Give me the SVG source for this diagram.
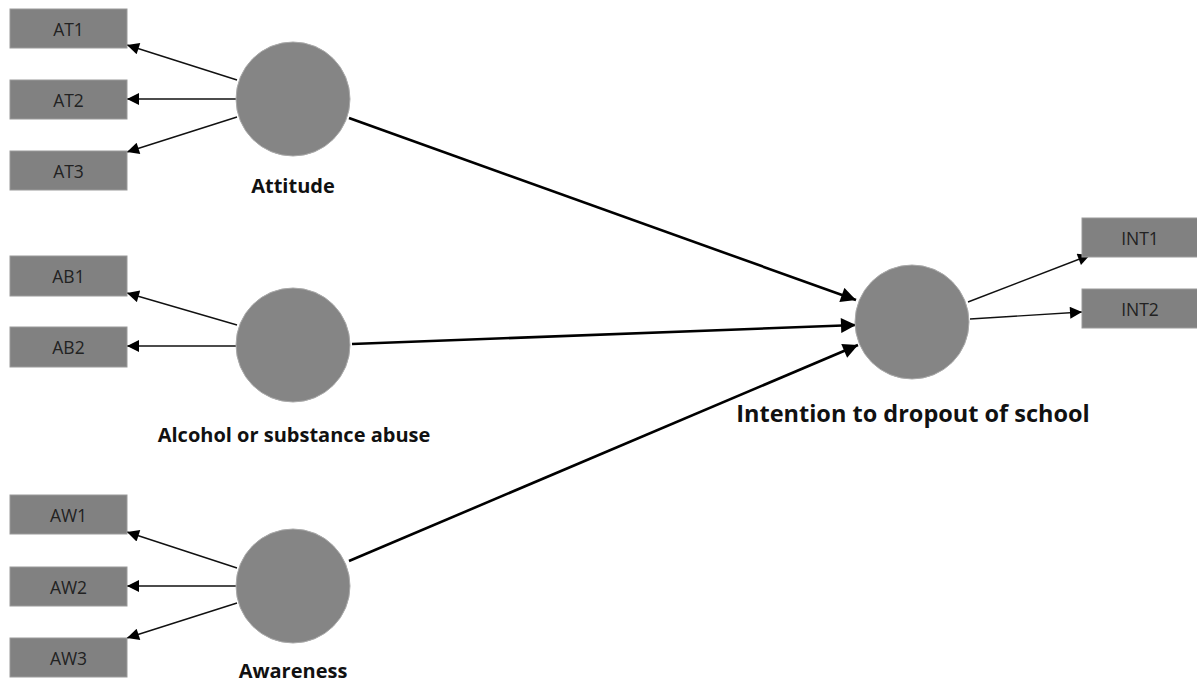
<svg xmlns="http://www.w3.org/2000/svg" width="1197" height="684" viewBox="0 0 1197 684">
<style>
.box{fill:#818181;stroke:#9a9a9a;stroke-width:1}
.lv{fill:#858585;stroke:#aaaaaa;stroke-width:1}
.bt{font-family:"Open Sans","Noto Sans",sans-serif;font-size:17.5px;fill:#222;text-anchor:middle}
.lt{font-family:"Open Sans","Noto Sans",sans-serif;font-size:20px;font-weight:bold;fill:#111;text-anchor:middle}
.thin{stroke:#111;stroke-width:1.4;fill:none;marker-end:url(#a1)}
.thick{stroke:#000;stroke-width:2.6;fill:none;marker-end:url(#a2)}
</style>
<defs>
<marker id="a1" viewBox="0 0 10 10" refX="10" refY="5" markerUnits="userSpaceOnUse" markerWidth="15" markerHeight="12" orient="auto"><path d="M0,0L10,5L0,10z" fill="#000"/></marker>
<marker id="a2" viewBox="0 0 10 10" refX="10" refY="5" markerUnits="userSpaceOnUse" markerWidth="18" markerHeight="15" orient="auto"><path d="M0,0L10,5L0,10z" fill="#000"/></marker>
</defs>
<rect width="1197" height="684" fill="#fff"/>
<g id="connectors">
<line class="thin" x1="237" y1="80" x2="127" y2="45"/>
<line class="thin" x1="236" y1="99" x2="127" y2="99"/>
<line class="thin" x1="237" y1="117" x2="127" y2="152"/>
<line class="thin" x1="237" y1="325" x2="127" y2="293"/>
<line class="thin" x1="236" y1="346" x2="127" y2="346"/>
<line class="thin" x1="237" y1="568" x2="127" y2="532"/>
<line class="thin" x1="236" y1="586" x2="127" y2="586"/>
<line class="thin" x1="237" y1="603" x2="127" y2="638"/>
<line class="thick" x1="349" y1="118" x2="856" y2="300"/>
<line class="thick" x1="352" y1="344" x2="856" y2="325"/>
<line class="thick" x1="349" y1="561" x2="858" y2="345"/>
<line class="thin" x1="968" y1="302" x2="1090" y2="255"/>
<line class="thin" x1="970" y1="319" x2="1082" y2="312"/>
</g>
<g id="AT1"><rect class="box" x="10" y="9" width="117" height="39"/><text class="bt" x="68.5" y="36">AT1</text></g>
<g id="AT2"><rect class="box" x="10" y="80" width="117" height="39"/><text class="bt" x="68.5" y="107">AT2</text></g>
<g id="AT3"><rect class="box" x="10" y="151" width="117" height="39"/><text class="bt" x="68.5" y="178">AT3</text></g>
<g id="AB1"><rect class="box" x="10" y="256" width="117" height="40"/><text class="bt" x="68.5" y="283">AB1</text></g>
<g id="AB2"><rect class="box" x="10" y="327" width="117" height="40"/><text class="bt" x="68.5" y="354">AB2</text></g>
<g id="AW1"><rect class="box" x="10" y="495" width="117" height="39"/><text class="bt" x="68.5" y="522">AW1</text></g>
<g id="AW2"><rect class="box" x="10" y="567" width="117" height="39"/><text class="bt" x="68.5" y="594">AW2</text></g>
<g id="AW3"><rect class="box" x="10" y="638" width="117" height="39"/><text class="bt" x="68.5" y="665">AW3</text></g>
<g id="INT1"><rect class="box" x="1082" y="218" width="116" height="39"/><text class="bt" x="1140" y="245">INT1</text></g>
<g id="INT2"><rect class="box" x="1082" y="289" width="116" height="39"/><text class="bt" x="1140" y="316">INT2</text></g>
<g id="Attitude"><circle class="lv" cx="293" cy="99" r="57"/><text class="lt" x="293" y="193">Attitude</text></g>
<g id="Alcohol"><circle class="lv" cx="293" cy="345" r="57"/><text class="lt" x="294" y="442">Alcohol or substance abuse</text></g>
<g id="Awareness"><circle class="lv" cx="293" cy="586" r="57"/><text class="lt" x="293" y="678">Awareness</text></g>
<g id="Intention"><circle class="lv" cx="912" cy="322" r="57"/><text class="lt" x="913" y="422" style="font-size:23.5px">Intention to dropout of school</text></g>
</svg>
